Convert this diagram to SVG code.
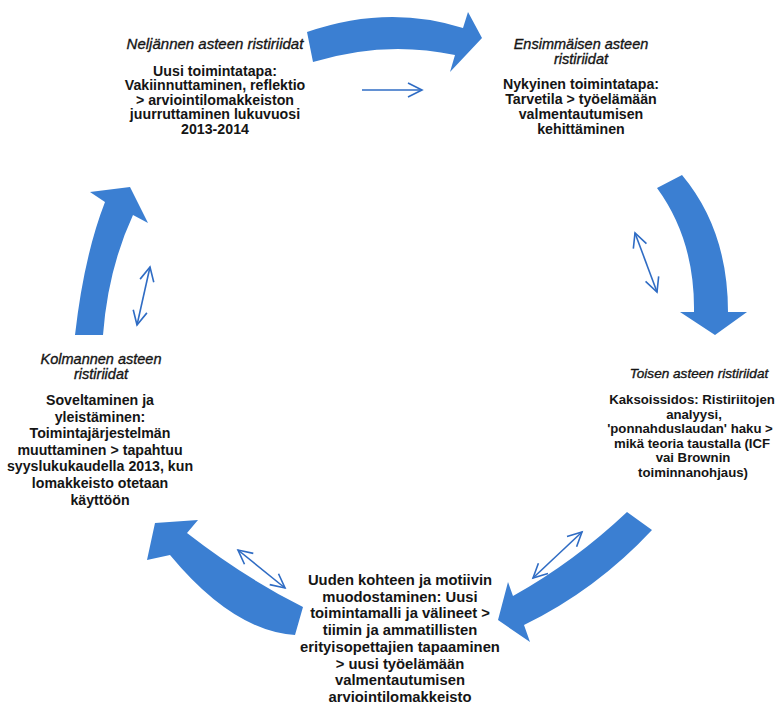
<svg xmlns="http://www.w3.org/2000/svg" width="780" height="704" viewBox="0 0 780 704">
<style>
.hd{font-family:"Liberation Sans",Arial,sans-serif;font-style:italic;font-size:14.5px;fill:#151515;stroke:#151515;stroke-width:0.35;text-anchor:middle}
.bd{font-family:"Liberation Sans",Arial,sans-serif;font-weight:bold;font-size:14.2px;fill:#151515;text-anchor:middle}
.sm{font-size:13.2px}
.big{fill:#3b7fd2;stroke:none}
.thin{fill:none;stroke:#2f6cc4;stroke-width:1.6}
</style>
<defs>
<marker id="oh" viewBox="0 0 20 20" refX="17" refY="10" markerWidth="20" markerHeight="20" markerUnits="userSpaceOnUse" orient="auto-start-reverse">
<path d="M3,3 L17,10 L3,17" fill="none" stroke="#2f6cc4" stroke-width="1.6"/>
</marker>
</defs>
<rect width="780" height="704" fill="#ffffff"/>

<g id="node-fourth">
<text class="hd" x="215" y="49" style="font-size:15px">Neljännen asteen ristiriidat</text>
<text class="bd" x="215" y="75.5">Uusi toimintatapa:</text>
<text class="bd" x="215" y="90.1">Vakiinnuttaminen, reflektio</text>
<text class="bd" x="215" y="104.7">&gt; arviointilomakkeiston</text>
<text class="bd" x="215" y="119.3">juurruttaminen lukuvuosi</text>
<text class="bd" x="215" y="133.9">2013-2014</text>
</g>

<g id="node-first">
<text class="hd" x="581" y="49">Ensimmäisen asteen</text>
<text class="hd" x="581" y="64">ristiriidat</text>
<text class="bd" x="581" y="89">Nykyinen toimintatapa:</text>
<text class="bd" x="581" y="104">Tarvetila &gt; työelämään</text>
<text class="bd" x="581" y="119">valmentautumisen</text>
<text class="bd" x="581" y="133.5">kehittäminen</text>
</g>

<g id="node-second">
<text class="hd" x="699" y="378" style="font-size:13.6px">Toisen asteen ristiriidat</text>
<text class="bd sm" x="692" y="404">Kaksoissidos: Ristiriitojen</text>
<text class="bd sm" x="694" y="418.6">analyysi,</text>
<text class="bd sm" x="690" y="433.2">'ponnahduslaudan' haku &gt;</text>
<text class="bd sm" x="692" y="447.8">mikä teoria taustalla (ICF</text>
<text class="bd sm" x="693" y="462.4">vai Brownin</text>
<text class="bd sm" x="693" y="477">toiminnanohjaus)</text>
</g>

<g id="node-third">
<text class="hd" x="101" y="364">Kolmannen asteen</text>
<text class="hd" x="101" y="379">ristiriidat</text>
<text class="bd" x="100" y="405">Soveltaminen ja</text>
<text class="bd" x="100" y="421.6">yleistäminen:</text>
<text class="bd" x="100" y="438.2">Toimintajärjestelmän</text>
<text class="bd" x="100" y="454.8">muuttaminen &gt; tapahtuu</text>
<text class="bd" x="100" y="471.4">syyslukukaudella 2013, kun</text>
<text class="bd" x="100" y="488">lomakkeisto otetaan</text>
<text class="bd" x="100" y="504.6">käyttöön</text>
</g>

<g id="node-new">
<text class="bd" x="400" y="585" style="font-size:14.8px">Uuden kohteen ja motiivin</text>
<text class="bd" x="400" y="601.7" style="font-size:14.8px">muodostaminen: Uusi</text>
<text class="bd" x="400" y="618.4" style="font-size:14.8px">toimintamalli ja välineet &gt;</text>
<text class="bd" x="400" y="635.1" style="font-size:14.8px">tiimin ja ammatillisten</text>
<text class="bd" x="400" y="651.8" style="font-size:14.8px">erityisopettajien tapaaminen</text>
<text class="bd" x="400" y="668.5" style="font-size:14.8px">&gt; uusi työelämään</text>
<text class="bd" x="400" y="685.2" style="font-size:14.8px">valmentautumisen</text>
<text class="bd" x="400" y="701.9" style="font-size:14.8px">arviointilomakkeisto</text>
</g>

<g id="connectors">
<path class="big" d="M307,32 Q388,4 463,28 L468,12 L482,38 L450,72 L455,55 Q385,40 313,62 Z"/>
<path class="big" d="M657,188 Q695,240 694,312 L680,312 L715,335 L747,312 L728,312 Q728,230 682,175 Z"/>
<path class="big" d="M627,512 Q574,562 513,596 L508,582 L498,620 L530,642 L524,625 Q596,590 652,530 Z"/>
<path class="big" d="M303,607 Q245,578 187,533 L198,520 L155,523 L147,560 L170,555 Q233,631 295,635 Z"/>
<path class="big" d="M75,335 Q84,256 105,202 L90,192 L130,187 L148,223 L133,215 Q108,269 103,335 Z"/>

<line class="thin" x1="362" y1="90" x2="422" y2="90" marker-end="url(#oh)"/>
<line class="thin" x1="635" y1="233" x2="657" y2="292" marker-start="url(#oh)" marker-end="url(#oh)"/>
<line class="thin" x1="582" y1="532" x2="533" y2="578" marker-start="url(#oh)" marker-end="url(#oh)"/>
<line class="thin" x1="238" y1="550" x2="285" y2="588" marker-start="url(#oh)" marker-end="url(#oh)"/>
<line class="thin" x1="150" y1="267" x2="137" y2="325" marker-start="url(#oh)" marker-end="url(#oh)"/>
</g>
</svg>
